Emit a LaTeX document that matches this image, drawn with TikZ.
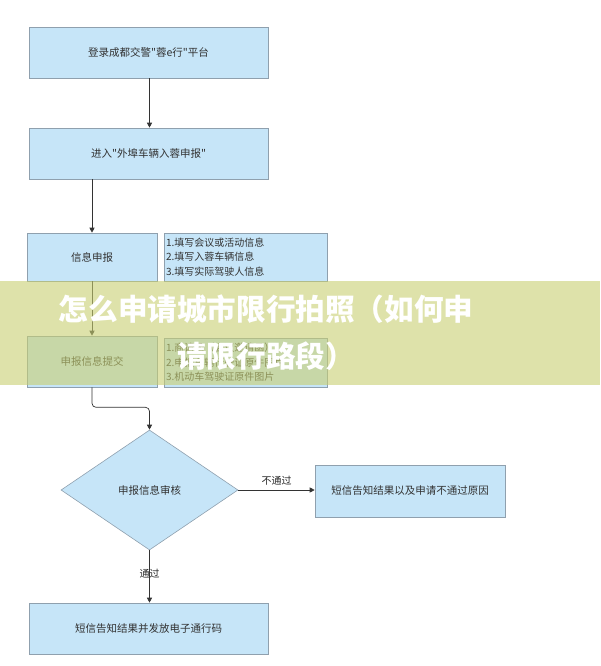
\documentclass[tikz,border=0pt]{standalone}
\usepackage{fontspec}
\setmainfont{Noto Sans CJK SC}[Ligatures=TeXOff]
\usepackage{xcolor}
\usepackage{tikz}
\usetikzlibrary{shapes.geometric,arrows.meta}
\definecolor{boxblue}{RGB}{198,229,248}
\definecolor{boxline}{RGB}{143,160,174}
\definecolor{boxtext}{RGB}{50,50,50}
\definecolor{bannerfill}{RGB}{200,207,113}

\begin{document}
\begin{tikzpicture}[
    x=1pt, y=-1pt,
    font=\fontsize{10.5}{13}\selectfont,
    % boxes of the flow
    stepbox/.style={rectangle, draw=boxline, line width=0.6pt, fill=boxblue, text=boxtext, inner sep=0pt},
    notebox/.style={stepbox, align=left, text width=#1, inner xsep=2pt, font=\fontsize{10}{14.5}\selectfont},
    checkbox/.style={diamond, draw=boxline, line width=0.6pt, fill=boxblue, text=boxtext, inner sep=0pt, minimum width=177pt, minimum height=120pt},
    flow/.style={draw=black!80, line width=0.7pt, -{Triangle[width=5pt,length=5pt]}},
    flowlabel/.style={text=black!85, font=\fontsize{10}{12}\selectfont}
]
    \useasboundingbox (0,0) rectangle (600,666);

    % --- Steps ---
    \node[stepbox, minimum width=239pt, minimum height=51pt] (login) at (148.5,52.5) {登录成都交警"蓉e行"平台};
    \node[stepbox, minimum width=239pt, minimum height=51pt] (enter) at (148.5,153.5) {进入"外埠车辆入蓉申报"};
    \node[stepbox, minimum width=130pt, minimum height=48pt] (report) at (92,257) {信息申报};
    \node[notebox=159pt, minimum height=48pt] (reportnote) at (245.5,257)
        {1.填写会议或活动信息\\2.填写入蓉车辆信息\\3.填写实际驾驶人信息};
    \node[stepbox, minimum width=130pt, minimum height=51pt] (submit) at (92,361.5) {申报信息提交};
    \node[notebox=159pt, minimum height=49pt] (submitnote) at (245.5,362.5)
        {1.商请函（会议邀请函）\\2.申报车辆行驶证原件图片\\3.机动车驾驶证原件图片};
    \node[checkbox] (audit) at (149.5,490) {申报信息审核};
    \node[stepbox, minimum width=190pt, minimum height=52pt] (reject) at (410,491) {短信告知结果以及申请不通过原因};
    \node[stepbox, minimum width=239pt, minimum height=51pt] (notify) at (148.5,628.5) {短信告知结果并发放电子通行码};

    % --- Connectors ---
    \coordinate (loginout) at (login.south -| audit.north);
    \draw[flow] (loginout) -- (loginout |- enter.north);
    \draw[flow] (enter.south -| report.north) -- (report.north);
    \draw[flow] (report.south) -- (submit.north);
    \draw[flow, rounded corners=4pt] (submit.south) -- ++(0,20) -| (audit.north);
    \draw[flow] (audit.east) -- node[flowlabel, above=1pt] {不通过} (reject.west |- audit.east);
    \draw[flow] (audit.south) -- node[flowlabel, pos=0.45] {通过} (audit.south |- notify.north);

    % --- Title banner ---
    \fill[bannerfill, fill opacity=0.6] (0,281) rectangle (600,385);
    \node[text=white, align=center, font=\bfseries\fontsize{29.6}{47}\selectfont] (title) at (266,333)
        {怎么申请城市限行拍照（如何申\\请限行路段）};
\end{tikzpicture}
\end{document}
